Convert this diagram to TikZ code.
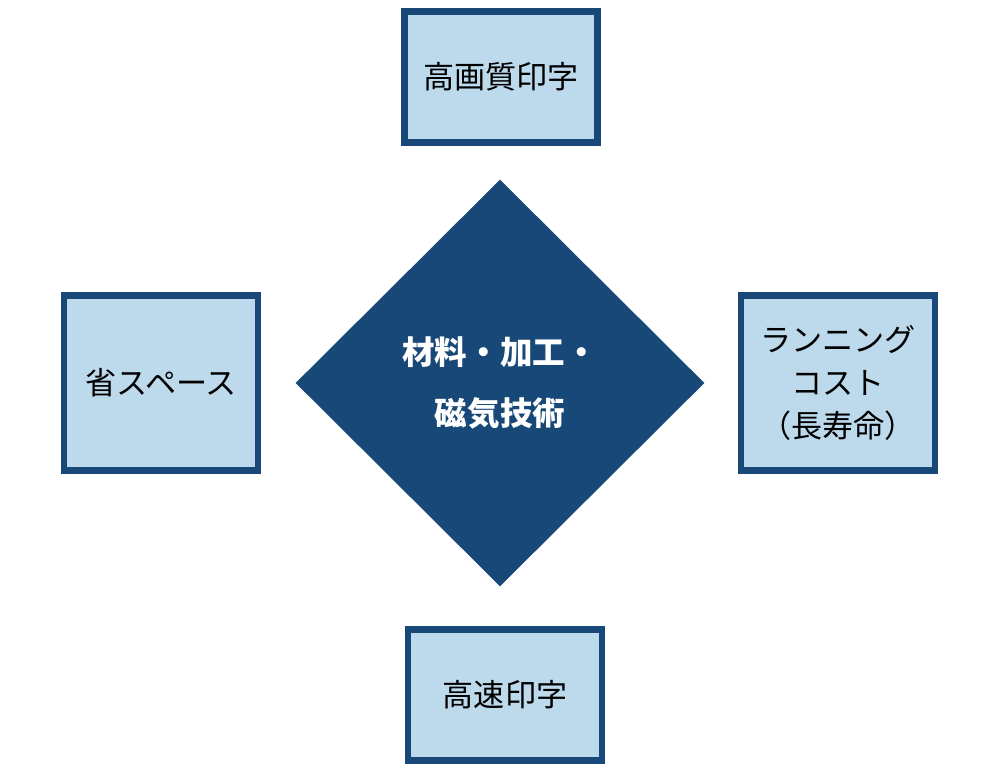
\documentclass[tikz,border=0pt]{standalone}
\usepackage{fontspec}
\setmainfont{Noto Sans CJK JP}
\usetikzlibrary{shapes.geometric}
\definecolor{navy}{HTML}{174878}
\definecolor{paleblue}{HTML}{BDD9EC}

\begin{document}
\begin{tikzpicture}[x=0.02cm,y=-0.02cm,
   box/.style={draw=navy,fill=paleblue,line width=5pt*0.7,inner sep=0pt,
      minimum width=3.86cm,align=center,font=\fontsize{17.7}{24.5}\selectfont},
   core/.style={diamond,fill=navy,shape aspect=1,inner sep=0pt,minimum width=8.18cm,
      minimum height=8.14cm,align=center,text=white,font=\bfseries\fontsize{18.5}{35}\selectfont},
   ]
   \useasboundingbox (0,0) rectangle (1000,770);
   \node[core] (core) at (500,383) {材料・加工・\\磁気技術};
   \node[box,minimum height=2.62cm] (quality) at (501,77) {高画質印字};
   \node[box,minimum height=2.62cm,minimum width=3.88cm] (speed) at (505,695) {高速印字};
   \node[box,minimum height=3.5cm,minimum width=3.88cm] (space) at (161,383) {省スペース};
   \node[box,minimum height=3.5cm,minimum width=3.88cm] (cost) at (838,383) {ランニング\\コスト\\（長寿命）};
\end{tikzpicture}
\end{document}
